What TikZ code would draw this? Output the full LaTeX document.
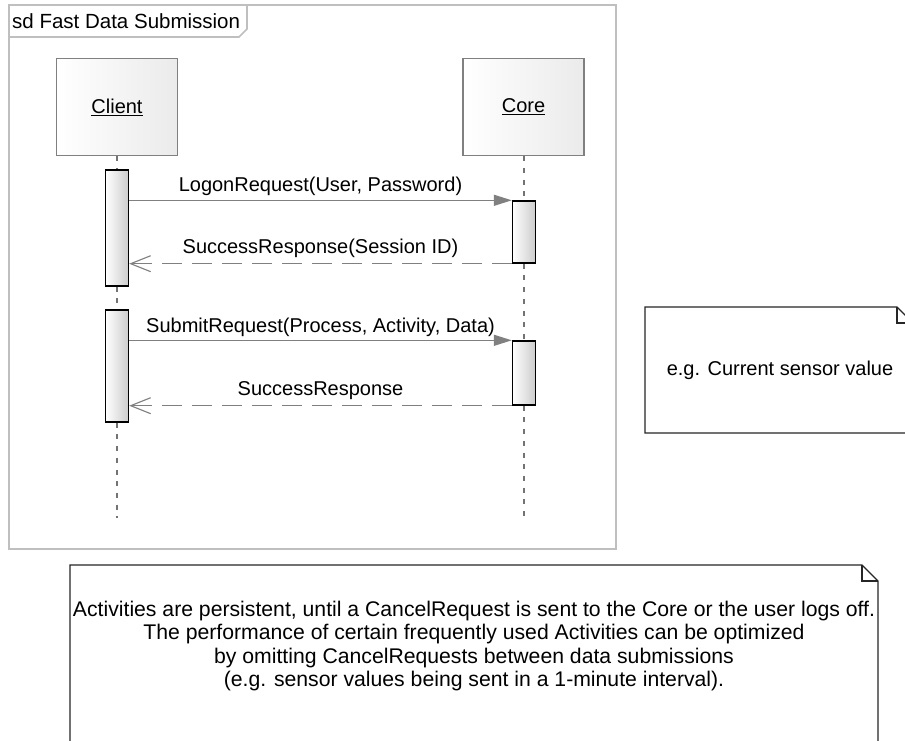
\documentclass[tikz,border=0pt]{standalone}
\usepackage{fontspec}
\setmainfont{Liberation Sans}
\usetikzlibrary{arrows.meta}
\tikzset{
  frameline/.style={draw=black!25, line width=1.6pt},
  head/.style={draw=black!50, line width=1.3pt, left color=white, right color=black!8,
    minimum width=121pt, minimum height=97pt, inner sep=0pt, font=\fontsize{20}{22}\selectfont},
  act/.style={draw=black, line width=1.4pt, left color=white, right color=black!20,
    minimum width=23pt, inner sep=0pt},
  lifeline/.style={draw=black!55, line width=1.3pt, dash pattern=on 5pt off 6.7pt},
  msg/.style={draw=black!50, line width=1.3pt, -{Triangle[length=18pt,width=11pt]}},
  ret/.style={draw=black!50, line width=1.1pt, dash pattern=on 20pt off 10pt,
    -{Straight Barb[length=20pt,width=16pt]}},
  lbl/.style={font=\fontsize{20}{22}\selectfont, inner sep=0pt, anchor=base},
  noteline/.style={draw=black!85, line width=1.3pt},
  notetext/.style={font=\fontsize{20}{23}\selectfont, align=center, inner sep=0pt},
  bignotetext/.style={font=\fontsize{21.2}{23.3}\selectfont, align=center, inner sep=0pt}
}
\begin{document}
\begin{tikzpicture}[x=1pt,y=-1pt]
\useasboundingbox (0,0) rectangle (905,740);
\clip (0,0) rectangle (905,740);
\fill[white] (0,0) rectangle (905,740);

% frame
\draw[frameline] (9,5) rectangle (616,549);
\draw[frameline] (9,37) -- (239,37) -- (247,29) -- (247,5);
\node[lbl, anchor=base west, font=\fontsize{20.5}{22}\selectfont] (flabel) at (12,28) {sd Fast Data Submission};

% heads
\node[head] (client) at (117,107) {\underline{Client}};
\node[head] (core) at (523.5,107) {\underline{Core}};

% activations
\node[act, minimum height=116pt] (ca1) at (117,228) {};
\node[act, minimum height=112pt] (ca2) at (117,366) {};
\node[act, minimum height=62pt] (cb1) at (524,232) {};
\node[act, minimum height=64pt] (cb2) at (524,373) {};

\coordinate (cend) at (117,518);
\coordinate (bend) at (524,518);

% lifelines
\draw[lifeline] (client.south) -- (ca1.north);
\draw[lifeline] (ca1.south) -- (ca2.north);
\draw[lifeline] (ca2.south) -- (cend);
\draw[lifeline] (core.south -| cb1.north) -- (cb1.north);
\draw[lifeline] (cb1.south) -- (cb2.north);
\draw[lifeline] (cb2.south) -- (bend);

% messages
\draw[msg] (ca1.east |- cb1.north west) -- (cb1.north west)
  node[lbl, midway, yshift=9pt] {LogonRequest(User, Password)};
\draw[ret] (cb1.south west) -- (ca1.east |- cb1.south west)
  node[lbl, midway, yshift=10pt] {SuccessResponse(Session ID)};
\draw[msg] (ca2.east |- cb2.north west) -- (cb2.north west)
  node[lbl, midway, yshift=8pt] {SubmitRequest(Process, Activity, Data)};
\draw[ret] (cb2.south west) -- (ca2.east |- cb2.south west)
  node[lbl, midway, yshift=10pt] {SuccessResponse};

% note 1
\fill[white] (645,307) -- (897,307) -- (913,323) -- (913,433) -- (645,433) -- cycle;
\draw[noteline] (645,307) -- (897,307) -- (913,323) -- (913,433) -- (645,433) -- cycle;
\draw[noteline] (897,307) -- (897,323) -- (913,323);
\node[notetext] (note1) at (780,370) {e.g. Current sensor value};

% note 2
\draw[noteline] (70,800) -- (70,565) -- (862,565) -- (878,581) -- (878,800);
\draw[noteline] (862,565) -- (862,581) -- (878,581);
\node[bignotetext] (note2) at (474,646) {Activities are persistent, until a CancelRequest is sent to the Core or the user logs off.\\
The performance of certain frequently used Activities can be optimized\\
by omitting CancelRequests between data submissions\\
(e.g. sensor values being sent in a 1-minute interval).};
\end{tikzpicture}
\end{document}
